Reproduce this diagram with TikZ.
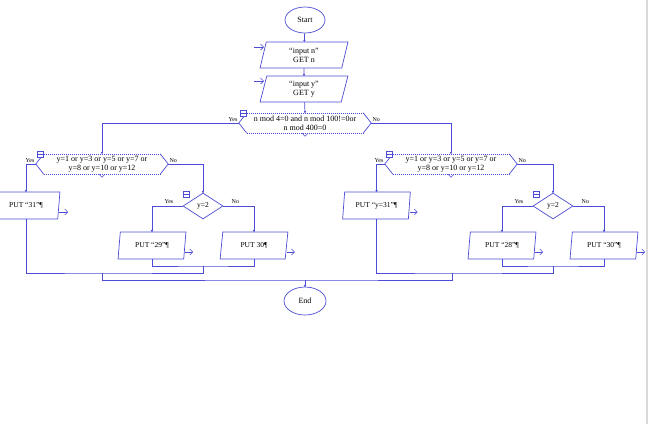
\documentclass[tikz,border=0pt]{standalone}
\usepackage{fontspec}
\setmainfont{Liberation Serif}
\usepackage{tikz}
\usetikzlibrary{arrows.meta,positioning,shapes.geometric}
\definecolor{flowblue}{RGB}{76,76,214}
\tikzset{
  flowline/.style={-{Circle[length=2pt]}, line width=0.7pt, draw=flowblue},
  flowjoin/.style={line width=0.7pt, draw=flowblue},
  flowdots/.style={line width=0.5pt, draw=flowblue,
    dash pattern=on 0.8pt off 1.2pt},
  flowout/.style={-{Straight Barb[length=3pt,width=6pt]}, line width=0.6pt,
    draw=flowblue},
  flowterm/.style={ellipse, draw=flowblue, line width=0.7pt, fill=white,
    minimum width=40pt, minimum height=26pt, inner sep=0pt,
    font=\fontsize{8}{9}\selectfont},
  flowio/.style={trapezium, trapezium left angle=81, trapezium right angle=99,
    trapezium stretches=true, draw=flowblue, line width=0.7pt, fill=white,
    align=center, minimum width=68pt, minimum height=27pt, inner sep=1pt,
    font=\fontsize{7.5}{9}\selectfont},
  flowcase/.style={rectangle, minimum width=116pt, minimum height=20pt,
    inner sep=0pt, align=center, font=\fontsize{8}{9}\selectfont},
  flowdiamond/.style={diamond, aspect=1.5, draw=flowblue, line width=0.7pt,
    fill=white, minimum width=40pt, minimum height=26pt, inner sep=0pt,
    font=\fontsize{7.5}{9}\selectfont},
  flowlabel/.style={font=\fontsize{6}{7}\selectfont, inner sep=1pt},
  flowicon/.style={rectangle, draw=flowblue, line width=0.6pt, fill=white,
    minimum size=6pt, inner sep=0pt,
    path picture={\draw[flowblue, line width=0.5pt]
      (path picture bounding box.west) -- (path picture bounding box.east);}}
}

\begin{document}
\begin{tikzpicture}[x=1pt,y=-1pt]
  \useasboundingbox (0,0) rectangle (650,424);
  \clip (0,0) rectangle (650,424);
  \draw[gray!30, line width=2pt] (647,0) -- (647,424);

  \node[flowterm] (start) at (305,20) {Start};
  \node[flowio, minimum width=88pt, minimum height=26pt,
    font=\fontsize{8}{9}\selectfont] (inputn) at (304,55)
    {“input n”\\GET n};
  \node[flowio, minimum width=88pt, minimum height=26pt,
    font=\fontsize{8}{9}\selectfont] (inputy) at (304,89)
    {“input y”\\GET y};
  \node[flowcase] (leap) at (305,123)
    {n mod 4=0 and n mod 100!=0or\\n mod 400=0};

  \node[flowcase] (lmonth) at (102,164)
    {y=1 or y=3 or y=5 or y=7 or\\y=8 or y=10 or y=12};
  \node[flowcase] (rmonth) at (451,164)
    {y=1 or y=3 or y=5 or y=7 or\\y=8 or y=10 or y=12};

  \node[flowio] (put31) at (26,205.5) {PUT “31”¶};
  \node[flowdiamond] (lfeb) at (203,206) {y=2};
  \node[flowio] (put29) at (152,245.5) {PUT “29”¶};
  \node[flowio] (put30) at (254,245.5) {PUT 30¶};

  \node[flowio] (rput31) at (376.5,205.5) {PUT “y=31”¶};
  \node[flowdiamond] (rfeb) at (553,206) {y=2};
  \node[flowio] (put28) at (502,245.5) {PUT “28”¶};
  \node[flowio] (rput30) at (604,245.5) {PUT “30”¶};

  \node[flowterm, minimum width=42pt, minimum height=28pt] (end) at (305,301)
    {End};

  % case outlines
  \draw[flowjoin] (leap.north west) -- ([xshift=-8]leap.west)
    -- (leap.south west);
  \draw[flowjoin] (leap.north east) -- ([xshift=8]leap.east)
    -- (leap.south east);
  \draw[flowdots] (leap.north west) -- (leap.north east)
    (leap.south west) -- (leap.south east);
  \draw[flowjoin, line width=0.5pt] ([xshift=-3]leap.south)
    -- ([yshift=-3]leap.south) -- ([xshift=3]leap.south);

  \draw[flowjoin] (lmonth.north west) -- ([xshift=-8]lmonth.west)
    -- (lmonth.south west);
  \draw[flowjoin] (lmonth.north east) -- ([xshift=8]lmonth.east)
    -- (lmonth.south east);
  \draw[flowdots] (lmonth.north west) -- (lmonth.north east)
    (lmonth.south west) -- (lmonth.south east);
  \draw[flowjoin, line width=0.5pt] ([xshift=-3]lmonth.south)
    -- ([yshift=-3]lmonth.south) -- ([xshift=3]lmonth.south);

  \draw[flowjoin] (rmonth.north west) -- ([xshift=-8]rmonth.west)
    -- (rmonth.south west);
  \draw[flowjoin] (rmonth.north east) -- ([xshift=8]rmonth.east)
    -- (rmonth.south east);
  \draw[flowdots] (rmonth.north west) -- (rmonth.north east)
    (rmonth.south west) -- (rmonth.south east);
  \draw[flowjoin, line width=0.5pt] ([xshift=-3]rmonth.south)
    -- ([yshift=-3]rmonth.south) -- ([xshift=3]rmonth.south);

  \node[flowicon] (leapicon) at ([xshift=-4]leap.north west) {};
  \node[flowicon] (lmonthicon) at ([xshift=-4]lmonth.north west) {};
  \node[flowicon] (rmonthicon) at ([xshift=-4]rmonth.north west) {};
  \node[flowicon] (lfebicon) at ([xshift=-17,yshift=-2]lfeb.north) {};
  \node[flowicon] (rfebicon) at ([xshift=-17,yshift=-2]rfeb.north) {};

  % inputs and outputs
  \coordinate (inputnin) at (254,47);
  \coordinate (inputyin) at (254,81);
  \draw[flowout] (inputnin) -- ++(10,0);
  \draw[flowout] (inputyin) -- ++(10,0);
  \draw[flowout] ([yshift=-6.5]put31.east) -- ++(9,0);
  \draw[flowout] ([yshift=-6.5]put29.east) -- ++(8,0);
  \draw[flowout] ([yshift=-6.5]put30.east) -- ++(8,0);
  \draw[flowout] ([yshift=-6.5]rput31.east) -- ++(8,0);
  \draw[flowout] ([yshift=-6.5]put28.east) -- ++(8,0);
  \draw[flowout] ([yshift=-6.5]rput30.east) -- ++(8,0);

  % flow
  \draw[flowline] (start) -- (inputn);
  \draw[flowline] (inputn) -- (inputy);
  \draw[flowline] (inputy) -- (leap.north);
  \draw[flowline] ([xshift=-8]leap.west) node[flowlabel, above left] {Yes}
    -| (lmonth.north);
  \draw[flowline] ([xshift=8]leap.east) node[flowlabel, above right] {No}
    -| (rmonth.north);

  \draw[flowline] ([xshift=-8]lmonth.west) node[flowlabel, above left] {Yes}
    -| (put31.north);
  \draw[flowline] ([xshift=8]lmonth.east) node[flowlabel, above right] {No}
    -| (lfeb.north);
  \draw[flowline] (lfeb.west) node[flowlabel, above left=1pt and 8pt] {Yes}
    -| (put29.north);
  \draw[flowline] (lfeb.east) node[flowlabel, above right=1pt and 7pt] {No}
    -| (put30.north);

  \draw[flowline] ([xshift=-8]rmonth.west) node[flowlabel, above left] {Yes}
    -| (rput31.north);
  \draw[flowline] ([xshift=8]rmonth.east) node[flowlabel, above right] {No}
    -| (rfeb.north);
  \draw[flowline] (rfeb.west) node[flowlabel, above left=1pt and 8pt] {Yes}
    -| (put28.north);
  \draw[flowline] (rfeb.east) node[flowlabel, above right=1pt and 7pt] {No}
    -| (rput30.north);

  % joins
  \coordinate (ljoinin) at (203,266);
  \coordinate (ljoinout) at (102,273);
  \coordinate (rjoinin) at (553,266);
  \coordinate (rjoinout) at (452,273);
  \coordinate (alljoin) at (305,280);
  \draw[flowjoin] (put29.south) |- (ljoinin) -| (put30.south);
  \draw[flowjoin] (put31.south) |- (ljoinout) -| (ljoinin);
  \draw[flowjoin] (put28.south) |- (rjoinin) -| (rput30.south);
  \draw[flowjoin] (rput31.south) |- (rjoinout) -| (rjoinin);
  \draw[flowjoin] (ljoinout) |- (alljoin) -| (rjoinout);
  \draw[flowline] (alljoin) -- (end);
\end{tikzpicture}
\end{document}
